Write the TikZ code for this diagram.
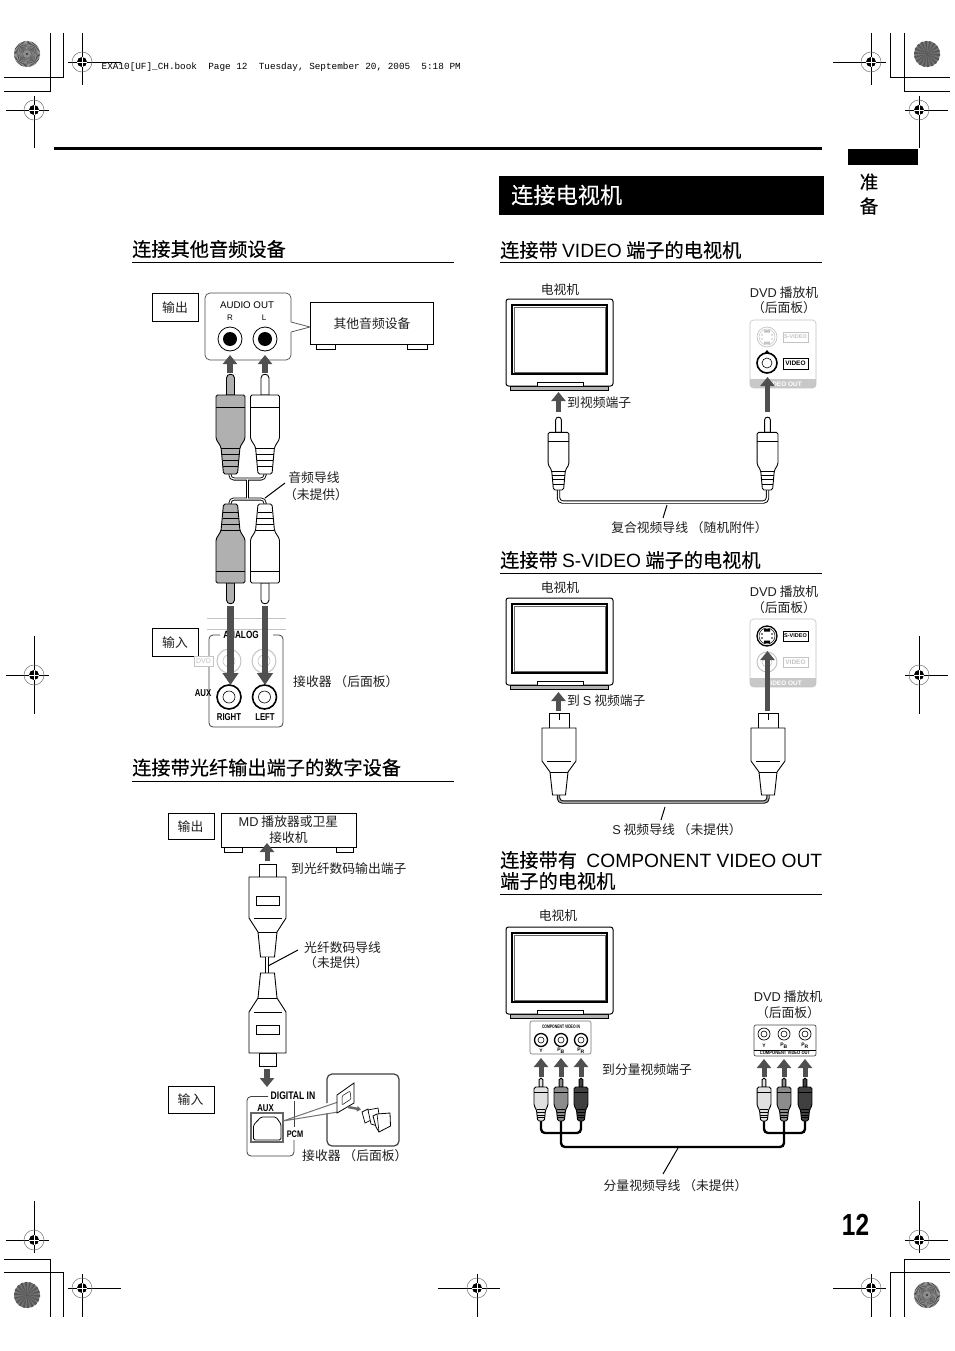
\documentclass[tikz,border=0pt]{standalone}
\usepackage{fontspec}
\setmainfont{Liberation Sans}
\setmonofont{Liberation Mono}
\newfontfamily\cjk{Noto Sans CJK SC}
\newfontfamily\cjkhead[FakeBold=0.25]{Noto Sans CJK SC}
\usetikzlibrary{arrows.meta}
\definecolor{arrowgray}{HTML}{505050}
\definecolor{ghost}{HTML}{C4C4C4}
\definecolor{bandgray}{HTML}{C8C8C8}
\definecolor{plugmid}{HTML}{B0B0B0}
\newcommand\latn[1]{{\rmfamily #1}}
\newcommand\fsz[1]{\fontsize{#1}{#1}\selectfont}
\tikzset{
  lab/.style={font=\fsz{12.8}\cjk,inner sep=0pt,text=black!88,yshift=-.8pt},
  headtext/.style={font=\fsz{19.2}\cjkhead,inner sep=0pt,anchor=west},
  condbold/.style={font=\fsz{#1}\bfseries\rmfamily,inner sep=0pt,xscale=.78},
  tagbox/.style={draw=black,line width=.9pt,fill=white},
  bigarrow/.style={draw=arrowgray,line width=#1,-{Triangle[length=9pt,width=14pt]}},
  bigarrow/.default=6pt,
  longarrow/.style={draw=arrowgray,line width=#1,-{Triangle[length=12pt,width=15.5pt]}},
  leader/.style={draw=black,line width=1pt},
  cableo/.style={draw=black,line width=3.4pt,rounded corners=4pt},
  cablei/.style={draw=white,line width=1.5pt,rounded corners=4pt},
  devline/.style={draw=black,line width=1pt},
  headrule/.style={draw=black,line width=1pt},
  crop/.style={draw=black,line width=.8pt},
}
% registration mark
\newcommand\regmark[6]{%
  \draw[crop] (#3,#2) -- (#4,#2) (#1,#5) -- (#1,#6);
  \draw[black!55,line width=.5pt] (#1,#2) circle[radius=10];
  \fill[black] (#1,#2) circle[radius=5];
  \draw[white,line width=.7pt] (#1-5,#2) -- (#1+5,#2) (#1,#2-5) -- (#1,#2+5);
}
% printer's star
\newcommand\starlight[2]{%
  \fill[black!22] (#1,#2) circle[radius=13];
  \foreach \a in {0,6,...,354}{\fill[black!75] (#1,#2) -- ++(\a:13) -- ++(\a+90:.7) -- cycle;}
  \fill[black!45] (#1,#2) circle[radius=4];
  \fill[black] (#1,#2) circle[radius=.9];
}
\newcommand\stardark[2]{%
  \fill[black!55] (#1,#2) circle[radius=13];
  \foreach \a in {0,20,...,340}{\fill[black!66] (#1,#2) -- ++(\a:13) -- ++(\a+90:2.2) -- cycle;}
}
% rca plug: x,y of pin tip, xscale, yscale, fill
\newcommand\rcaplug[5]{%
  \begin{scope}[shift={(#1,#2)},xscale=#3,yscale=#4,line width=.9pt]
    \draw[fill=#5] (-4,21) -- (-4,4) .. controls (-4,-1) and (4,-1) .. (4,4) -- (4,21) -- cycle;
    \draw[fill=#5,rounded corners=1.6pt] (-14.5,21) -- (-14.5,65) -- (-9.5,73) -- (-7,100) -- (7,100) -- (9.5,73) -- (14.5,65) -- (14.5,21) -- cycle;
    \draw (-14.5,33) -- (14.5,33) (-9.3,74) -- (9.3,74) (-8.7,80) -- (8.7,80) (-8,86) -- (8,86) (-7.4,92) -- (7.4,92);
  \end{scope}
}
% optical plug
\newcommand\optplug[3]{%
  \begin{scope}[shift={(#1,#2)},yscale=#3,line width=.9pt]
    \draw[fill=white] (-8.5,0) rectangle (8.5,13);
    \draw[fill=white] (-18.5,13) -- (-18.5,54) -- (-9.5,68) -- (-7,93) -- (7,93) -- (9.5,68) -- (18.5,54) -- (18.5,13) -- cycle;
    \draw (-14,54) -- (14,54) (-9.5,68) -- (9.5,68);
    \draw (-11.5,32) rectangle (11.5,41);
  \end{scope}
}
% s-video plug
\newcommand\splug[2]{%
  \begin{scope}[shift={(#1,#2)},line width=.9pt]
    \draw[fill=white] (-10,0) rectangle (10,15);
    \draw (0,0) -- (0,7);
    \draw[fill=white] (-17,15) -- (-17,48) -- (-9,59) -- (-6.5,82) -- (6.5,82) -- (9,59) -- (17,48) -- (17,15) -- cycle;
    \draw (-12,48) -- (12,48) (-9,59) -- (9,59);
  \end{scope}
}
% television
\newcommand\mytv[2]{%
  \begin{scope}[shift={(#1,#2)}]
    \draw[fill=black!30,line width=.9pt] (4,87) rectangle (102,91);
    \draw[fill=white,rounded corners=2.5pt,line width=1pt] (0,0) rectangle (107,87);
    \draw[line width=.7pt,fill=white] (31,87) -- (31,83) -- (77,83) -- (77,87);
    \draw[line width=1.3pt] (6,6) rectangle (101,75);
    \draw[line width=.4pt,black!60] (8,8) rectangle (99,73);
  \end{scope}
}
% ring jack: x y r-outer r-inner line width colour
\newcommand\ringjack[6]{%
  \draw[#6,line width=#5,fill=white] (#1,#2) circle[radius=#3];
  \draw[#6,line width=.6pt] (#1,#2) circle[radius=#4];
}
% s-video socket
\newcommand\sjack[3]{%
  \draw[#3,line width=#2,fill=white] (767,#1) circle[radius=10];
  \draw[#3,line width=.5pt] (767,#1) circle[radius=8];
  \fill[#3] (764,#1-7) rectangle (770,#1-4.5) (764,#1+4.5) rectangle (770,#1+7);
  \fill[#3] (762,#1-2) circle[radius=.9] (772,#1-2) circle[radius=.9] (762,#1+2) circle[radius=.9] (772,#1+2) circle[radius=.9];
}
\newcommand\dvdpanel[1]{%
  \begin{scope}
    \clip[rounded corners=3.5pt] (750,#1) rectangle (816,#1+68);
    \fill[bandgray] (750,#1+59) rectangle (816,#1+68);
  \end{scope}
  \draw[ghost,line width=.6pt,rounded corners=3.5pt] (750,#1) rectangle (816,#1+68);
}
\begin{document}
\begin{tikzpicture}[x=1pt,y=-1pt]
\useasboundingbox (0,0) rectangle (954,1351);
\fill[white] (0,0) rectangle (954,1351);

% ---- printer marks
\draw[crop] (63,33) -- (63,77) -- (4,77) (50,33) -- (50,91) -- (4,91);
\draw[crop] (890,33) -- (890,77) -- (950,77) (904,33) -- (904,91) -- (950,91);
\draw[crop] (4,1259) -- (50,1259) -- (50,1317) (4,1272) -- (63,1272) -- (63,1317);
\draw[crop] (950,1259) -- (904,1259) -- (904,1317) (950,1272) -- (890,1272) -- (890,1317);
\regmark{82}{62}{68}{121}{33}{85}
\regmark{34}{110}{6}{49}{96}{148}
\regmark{871}{62}{833}{886}{33}{85}
\regmark{919}{110}{905}{948}{96}{148}
\regmark{34}{675}{6}{49}{636}{714}
\regmark{919}{675}{905}{948}{636}{714}
\regmark{34}{1240}{6}{49}{1201}{1253}
\regmark{82}{1288}{68}{121}{1274}{1317}
\regmark{477}{1288}{438}{500}{1274}{1317}
\regmark{919}{1240}{905}{948}{1201}{1253}
\regmark{871}{1288}{833}{886}{1274}{1317}
\starlight{27}{54}
\stardark{927}{54}
\stardark{27}{1295}
\starlight{927}{1295}
\node[anchor=west,inner sep=0pt,font=\fsz{9.35}\ttfamily] (bookline) at (101.5,67.5) {EXA10[UF]\_CH.book\ \ Page 12\ \ Tuesday, September 20, 2005\ \ 5:18 PM};

% ---- page furniture
\fill[black] (54,147.5) rectangle (822,150.5);
\fill[black] (848,149) rectangle (918,165);
\node[font=\fsz{18.5}\cjkhead,inner sep=0pt] (side1) at (869,182) {准};
\node[font=\fsz{18.5}\cjkhead,inner sep=0pt] (side2) at (869,206) {备};
\node[font=\bfseries\fsz{30.5}\rmfamily,inner sep=0pt,xscale=.8] (pageno) at (855.5,1224.5) {12};
\fill[black] (499,176) rectangle (824,215);
\node[font=\fsz{22.2}\cjkhead,text=white,inner sep=0pt,anchor=west] (mainhead) at (511,195) {连接电视机};

% ---- headings
\node[headtext] (h1) at (132,249) {连接其他音频设备};
\draw[headrule] (132,262) -- (454,262);
\node[headtext] (h2) at (132,767.5) {连接带光纤输出端子的数字设备};
\draw[headrule] (132,781) -- (454,781);
\node[headtext] (h3) at (500,250) {连接带 \latn{VIDEO} 端子的电视机};
\draw[headrule] (500,262.5) -- (822,262.5);
\node[headtext] (h4) at (500,560) {连接带 \latn{S-VIDEO} 端子的电视机};
\draw[headrule] (500,573) -- (822,573);
\node[headtext] (h5a) at (500,860) {\hbox to 322pt{连接带有\hfil\latn{COMPONENT VIDEO OUT}}};
\node[headtext] (h5b) at (500,881) {端子的电视机};
\draw[headrule] (500,894) -- (822,894);

% ---- other audio equipment
\draw[tagbox] (152,293) rectangle (198,321);
\node[lab] (out1) at (175,307) {输出};
\draw[black!70,line width=.7pt,rounded corners=5pt] (291,322) -- (291,293) -- (205,293) -- (205,360) -- (291,360) -- (291,332);
\draw[black!70,line width=.7pt] (291,322) -- (310,327) -- (291,332);
\node[font=\fsz{9.7}\rmfamily,inner sep=0pt] (audioout) at (247,305.5) {AUDIO OUT};
\node[font=\fsz{8}\rmfamily,inner sep=0pt] (rlab) at (230,318) {R};
\node[font=\fsz{8}\rmfamily,inner sep=0pt] (llab) at (264,318) {L};
\draw[devline,fill=white] (316,344) rectangle (335,349) (407,344) rectangle (427,349);
\draw[devline,fill=white] (310,302) rectangle (433,344);
\node[lab] (otherdev) at (372,323) {其他音频设备};
\foreach \x in {230,265}{
  \draw[black,line width=.8pt,fill=white] (\x,339) circle[radius=12];
  \fill[black] (\x,339) circle[radius=7];
}
\coordinate (a1s) at (230,373); \coordinate (a1t) at (230,355);
\coordinate (a2s) at (265,373); \coordinate (a2t) at (265,355);
\draw[bigarrow=6pt] (a1s) -- (a1t);
\draw[bigarrow=6pt] (a2s) -- (a2t);
% Y cable
\coordinate (yl1) at (230,473); \coordinate (yr1) at (265,473);
\coordinate (yl2) at (230,504); \coordinate (yr2) at (265,504);
\coordinate (ym1) at (247.5,479); \coordinate (ym2) at (247.5,499);
\draw[cableo,line width=3pt] (yl1) |- (ym1) -| (yr1);
\draw[cableo,line width=3pt] (yl2) |- (ym2) -| (yr2);
\draw[cableo,line width=3pt] (ym1) -- (ym2);
\draw[cablei,line width=1.2pt] (yl1) |- (ym1) -| (yr1);
\draw[cablei,line width=1.2pt] (yl2) |- (ym2) -| (yr2);
\draw[cablei,line width=1.2pt] (ym1) -- (ym2);
\rcaplug{230.5}{374}{1}{1}{plugmid}
\rcaplug{265}{374}{1}{1}{white}
\rcaplug{230.5}{604}{1}{-1}{plugmid}
\rcaplug{265}{604}{1}{-1}{white}
\node[lab] (cab1a) at (314,477) {音频导线};
\node[lab] (cab1b) at (316,494) {（未提供）};
\coordinate (l1a) at (285,483); \coordinate (l1b) at (265,498);
\draw[leader] (l1a) -- (l1b);
% receiver analog panel
\draw[ghost,line width=.6pt] (207,618) -- (286,618) (207,629) -- (286,629);
\draw[black!75,line width=.8pt,rounded corners=4pt] (220,635) -- (209,635) -- (209,727) -- (283,727) -- (283,635) -- (273,635);
\node[condbold=10.5] (analog) at (241,635) {ANALOG};
\draw[tagbox] (152,628) rectangle (198,656);
\node[lab] (in1) at (175,642) {输入};
\draw[ghost,line width=.7pt,fill=white] (194,656) rectangle (213,666);
\node[font=\fsz{7}\rmfamily,text=ghost,inner sep=0pt] (dvdtag) at (203.5,661) {DVD};
\ringjack{229}{661}{12}{6}{1pt}{ghost}
\ringjack{264}{661}{12}{6}{1pt}{ghost}
\ringjack{229}{697}{12}{6}{1.6pt}{black}
\ringjack{264.5}{697}{12}{6}{1.6pt}{black}
\node[condbold=10] (aux1) at (203,693) {AUX};
\node[condbold=10] (right1) at (229,717) {RIGHT};
\node[condbold=10] (left1) at (265,717) {LEFT};
\coordinate (a3s) at (230.5,606); \coordinate (a3t) at (230.5,685);
\coordinate (a4s) at (265,606); \coordinate (a4t) at (265,685);
\draw[longarrow=6.5pt] (a3s) -- (a3t);
\draw[longarrow=6.5pt] (a4s) -- (a4t);
\node[lab,anchor=west] (recv1) at (293,681) {接收器 （后面板）};

% ---- optical digital equipment
\draw[tagbox] (168,813) rectangle (214,839);
\node[lab] (out2) at (190.5,826) {输出};
\draw[devline,fill=white] (224,847) rectangle (242,852) (336,847) rectangle (353,852);
\draw[devline,fill=white] (221,813) rectangle (356,847);
\node[lab] (md1) at (288.5,821) {\latn{MD} 播放器或卫星};
\node[lab] (md2) at (288.5,837) {接收机};
\coordinate (a5s) at (267,861); \coordinate (a5t) at (267,843);
\draw[bigarrow=5pt] (a5s) -- (a5t);
\node[lab,anchor=west] (opt1) at (291,868) {到光纤数码输出端子};
\optplug{267.5}{864}{1}
\coordinate (oc1) at (267,957); \coordinate (oc2) at (267,973);
\draw[black,line width=4pt] (oc1) -- (oc2);
\draw[white,line width=2pt] (oc1) -- (oc2);
\optplug{267.5}{1066}{-1}
\node[lab,anchor=west] (opt2) at (304,947) {光纤数码导线};
\node[lab,anchor=west] (opt3) at (304,962) {（未提供）};
\coordinate (l2a) at (298,950); \coordinate (l2b) at (268,966);
\draw[leader] (l2a) -- (l2b);
\coordinate (a6s) at (267,1069); \coordinate (a6t) at (267,1087);
\draw[bigarrow=5.5pt] (a6s) -- (a6t);
\draw[tagbox] (168,1086) rectangle (214,1113);
\node[lab] (in2) at (190.5,1099) {输入};
\draw[black!75,line width=.8pt,rounded corners=4pt] (268,1096.5) -- (247,1096.5) -- (247,1156) -- (294,1156) -- (294,1140);
\draw[black!75,line width=.8pt] (294,1101) -- (294,1127);
\node[condbold=11] (digin) at (293,1096) {DIGITAL IN};
\node[condbold=10] (aux2) at (265.5,1108) {AUX};
\node[condbold=9.5] (pcm) at (295,1134.5) {PCM};
\draw[black!60,line width=1.3pt,fill=white] (251,1113) rectangle (283,1142);
\draw[black,line width=.8pt,rounded corners=1.5pt] (253.5,1140) -- (253.5,1125) -- (261,1117) -- (276,1117) -- (281,1124) -- (281,1140) -- cycle;
\draw[black!75,line width=1.2pt,rounded corners=5pt,fill=white] (327,1103) -- (327,1074) -- (399,1074) -- (399,1146) -- (327,1146) -- (327,1113);
\coordinate (z0) at (283,1121); \coordinate (z1) at (338,1102); \coordinate (z2) at (338,1112);
\draw[black!55,line width=1pt] (z1) -- (z0) -- (z2);
\draw[black,line width=.8pt,fill=white] (337,1095) -- (354,1083) -- (354,1103) -- (337,1113) -- cycle;
\draw[black,line width=.5pt,rounded corners=1pt] (342,1096) -- (350,1091) -- (351,1099) -- (342,1105) -- cycle;
\coordinate (a7s) at (348,1107); \coordinate (a7t) at (361,1109.5);
\draw[draw=black!60,line width=2.4pt,-{Triangle[length=4pt,width=5.5pt]}] (a7s) -- (a7t);
\draw[black,line width=.7pt,fill=white] (362,1112) -- (368,1109) -- (371,1120) -- (365,1123) -- cycle;
\draw[black,line width=.7pt,fill=white] (368,1110) -- (378,1108) -- (381,1127) -- (371,1124) -- cycle;
\draw[black,line width=.8pt,fill=white] (373,1116) -- (377,1114) -- (390,1113) -- (390.5,1126) -- (379,1132) -- (376,1127) -- cycle;
\draw[black,line width=.6pt] (377,1114) -- (379,1132);
\node[lab,anchor=west] (recv2) at (302,1155) {接收器 （后面板）};

% ---- VIDEO
\mytv{506}{299}
\node[lab] (tv1) at (560,289) {电视机};
\node[lab] (dvd1a) at (784,292) {\latn{DVD} 播放机};
\node[lab] (dvd1b) at (784,307) {（后面板）};
\dvdpanel{320}
\sjack{337}{.7pt}{ghost}
\draw[ghost,line width=.7pt] (783,332) rectangle (808,342);
\node[font=\fsz{5.5}\bfseries\rmfamily,text=ghost,inner sep=0pt] (sv1) at (795.5,337) {S-VIDEO};
\ringjack{767}{363}{10}{5}{1.6pt}{black}
\fill[black] (764.5,353) -- (769.5,353) -- (767,350) -- cycle;
\draw[black,line width=.9pt] (783,358) rectangle (808,369);
\node[font=\fsz{6.5}\bfseries\rmfamily,inner sep=0pt] (vd1) at (795.5,363.5) {VIDEO};
\node[font=\fsz{6.5}\bfseries\rmfamily,text=white,inner sep=0pt] (vo1) at (784,384) {VIDEO OUT};
\coordinate (b1s) at (558.5,412); \coordinate (b1t) at (558.5,392);
\coordinate (b2s) at (767.5,412); \coordinate (b2t) at (767.5,377);
\draw[bigarrow=5.5pt] (b1s) -- (b1t);
\draw[bigarrow=5.5pt] (b2s) -- (b2t);
\node[lab,anchor=west] (to1) at (567,402) {到视频端子};
\coordinate (c1a) at (558.5,488); \coordinate (c1b) at (767.5,488); \coordinate (c1y) at (660,502);
\draw[cableo] (c1a) |- (c1y) -| (c1b);
\draw[cablei] (c1a) |- (c1y) -| (c1b);
\rcaplug{558.5}{417}{.72}{.73}{white}
\rcaplug{767.5}{417}{.72}{.73}{white}
\coordinate (l3a) at (667,505); \coordinate (l3b) at (663,518);
\draw[leader] (l3a) -- (l3b);
\node[lab] (cab3) at (689.5,527) {复合视频导线 （随机附件）};

% ---- S-VIDEO
\mytv{506}{598}
\node[lab] (tv2) at (560,587) {电视机};
\node[lab] (dvd2a) at (784,591) {\latn{DVD} 播放机};
\node[lab] (dvd2b) at (784,607) {（后面板）};
\dvdpanel{619}
\sjack{636}{1.3pt}{black}
\draw[black,line width=.9pt] (783,631) rectangle (808,641);
\node[font=\fsz{5.5}\bfseries\rmfamily,inner sep=0pt] (sv2) at (795.5,636) {S-VIDEO};
\ringjack{767}{662}{10}{5}{1pt}{ghost}
\draw[ghost,line width=.7pt] (783,657) rectangle (808,667);
\node[font=\fsz{6.5}\bfseries\rmfamily,text=ghost,inner sep=0pt] (vd2) at (795.5,662) {VIDEO};
\node[font=\fsz{6.5}\bfseries\rmfamily,text=white,inner sep=0pt] (vo2) at (784,683) {VIDEO OUT};
\coordinate (b3s) at (558.5,711); \coordinate (b3t) at (558.5,692);
\coordinate (b4s) at (767.5,711); \coordinate (b4t) at (767.5,651);
\draw[bigarrow=5.5pt] (b3s) -- (b3t);
\draw[bigarrow=5.5pt] (b4s) -- (b4t);
\node[lab,anchor=west] (to2) at (567,700) {到 \latn{S} 视频端子};
\coordinate (c2a) at (558.5,794); \coordinate (c2b) at (768,794); \coordinate (c2y) at (660,802);
\draw[cableo] (c2a) |- (c2y) -| (c2b);
\draw[draw=black!35,line width=1.5pt,rounded corners=4pt] (c2a) |- (c2y) -| (c2b);
\splug{559}{713}
\splug{768}{713}
\coordinate (l4a) at (665,807); \coordinate (l4b) at (661,820);
\draw[leader] (l4a) -- (l4b);
\node[lab] (cab4) at (677,829) {\latn{S} 视频导线 （未提供）};

% ---- COMPONENT
\mytv{506}{927}
\node[lab] (tv3) at (558,915) {电视机};
\node[lab] (dvd3a) at (788,996) {\latn{DVD} 播放机};
\node[lab] (dvd3b) at (788,1012) {（后面板）};
\draw[black!55,line width=.6pt,rounded corners=2pt] (530,1021) rectangle (591,1054);
\node[font=\fsz{5}\bfseries\rmfamily,inner sep=0pt,xscale=.68] (cvin) at (561,1027) {COMPONENT VIDEO IN};
\foreach \x in {541,561,581}{\ringjack{\x}{1040}{6.5}{3}{1.3pt}{black}}
\node[font=\fsz{5}\bfseries\rmfamily,inner sep=0pt] (iny) at (541,1051) {Y};
\node[font=\fsz{5}\bfseries\rmfamily,inner sep=0pt] (inb) at (561,1051) {P\textsubscript{B}};
\node[font=\fsz{5}\bfseries\rmfamily,inner sep=0pt] (inr) at (581,1051) {P\textsubscript{R}};
\draw[black!70,line width=.7pt,rounded corners=2pt] (754,1025) rectangle (816,1056);
\foreach \x in {764,784,805}{\ringjack{\x}{1034}{6}{3}{.7pt}{black}}
\node[font=\fsz{5}\bfseries\rmfamily,inner sep=0pt] (outy) at (764,1046) {Y};
\node[font=\fsz{5}\bfseries\rmfamily,inner sep=0pt] (outb) at (784,1046) {P\textsubscript{B}};
\node[font=\fsz{5}\bfseries\rmfamily,inner sep=0pt] (outr) at (805,1046) {P\textsubscript{R}};
\draw[black,line width=.6pt] (754,1050) -- (816,1050);
\node[font=\fsz{5}\bfseries\rmfamily,inner sep=0pt,xscale=.82] (cvout) at (785,1053) {COMPONENT VIDEO OUT};
\foreach \n/\x/\tp in {d1/541/1058,d2/561/1058,d3/581/1058,d4/764/1059,d5/784/1059,d6/805/1059}{
  \coordinate (\n s) at (\x,1077); \coordinate (\n t) at (\x,\tp);
  \draw[bigarrow=5pt] (\n s) -- (\n t);
}
\node[lab,anchor=west] (to3) at (602,1069) {到分量视频端子};
\coordinate (e1) at (541,1120); \coordinate (e2) at (561,1120); \coordinate (e3) at (581,1120);
\coordinate (e4) at (764,1120); \coordinate (e5) at (784,1120); \coordinate (e6) at (805,1120);
\coordinate (y1) at (561,1133); \coordinate (y2) at (784,1133); \coordinate (y3) at (670,1147);
\draw[draw=black,line width=2.4pt,rounded corners=4pt] (e1) |- (y1) -| (e3);
\draw[draw=black,line width=2.4pt,rounded corners=4pt] (e4) |- (y2) -| (e6);
\draw[draw=black,line width=2.4pt,rounded corners=4pt] (e2) |- (y3) -| (e5);
\rcaplug{541}{1078}{.48}{.43}{black!12}
\rcaplug{561}{1078}{.48}{.43}{black!45}
\rcaplug{581}{1078}{.48}{.43}{black!75}
\rcaplug{764}{1078}{.48}{.43}{black!12}
\rcaplug{784}{1078}{.48}{.43}{black!45}
\rcaplug{805}{1078}{.48}{.43}{black!75}
\coordinate (l5a) at (678,1148); \coordinate (l5b) at (663,1174);
\draw[leader] (l5a) -- (l5b);
\node[lab] (cab5) at (675.5,1185) {分量视频导线 （未提供）};
\end{tikzpicture}
\end{document}
